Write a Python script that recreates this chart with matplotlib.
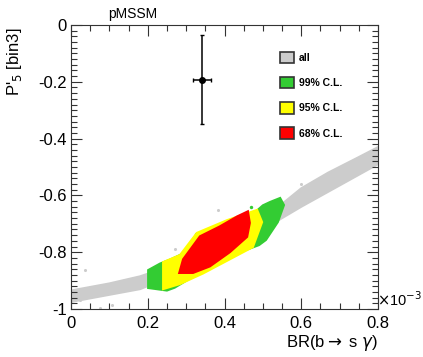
import numpy as np
import matplotlib
matplotlib.use("Agg")
import matplotlib.pyplot as plt
from matplotlib.patches import Patch
from matplotlib.ticker import MultipleLocator

plt.rcParams['font.family'] = ['Liberation Sans', 'DejaVu Sans']

# Outlines of the point clouds (x in units of 1e-3)
all_x_upper = [0.0, 0.1, 0.18, 0.3, 0.4, 0.5, 0.55, 0.6, 0.67, 0.75, 0.8]
all_y_upper = [-0.935, -0.91, -0.885, -0.83, -0.77, -0.69, -0.63, -0.575, -0.52, -0.465, -0.43]
all_x_lower = [0.8, 0.7, 0.6, 0.55, 0.5, 0.4, 0.3, 0.18, 0.1, 0.0]
all_y_lower = [-0.49, -0.565, -0.64, -0.68, -0.72, -0.80, -0.865, -0.93, -0.95, -0.975]
all_out_x = [0.036, 0.383, 0.024, 0.076, 0.108, 0.05, 0.13, 0.27, 0.6]
all_out_y = [-0.863, -0.651, -0.968, -0.996, -0.986, -0.945, -0.93, -0.79, -0.56]

cl99_x = [0.201, 0.201, 0.232, 0.26, 0.30, 0.40, 0.479, 0.50, 0.519, 0.545, 0.555, 0.539, 0.508, 0.49, 0.44, 0.35, 0.27, 0.25]
cl99_y = [-0.926, -0.863, -0.840, -0.825, -0.80, -0.72, -0.66, -0.635, -0.623, -0.609, -0.634, -0.694, -0.757, -0.775, -0.80, -0.86, -0.925, -0.935]
cl99_dot_x = [0.301, 0.47, 0.325]
cl99_dot_y = [-0.785, -0.64, -0.735]

cl95_x = [0.240, 0.240, 0.284, 0.328, 0.407, 0.461, 0.485, 0.498, 0.474, 0.414, 0.344, 0.284]
cl95_y = [-0.930, -0.835, -0.810, -0.732, -0.687, -0.662, -0.651, -0.694, -0.782, -0.825, -0.875, -0.912]

cl68_x = [0.282, 0.292, 0.336, 0.388, 0.433, 0.461, 0.466, 0.459, 0.414, 0.362, 0.318]
cl68_y = [-0.873, -0.825, -0.744, -0.709, -0.674, -0.656, -0.697, -0.746, -0.800, -0.850, -0.873]

# measurement
meas_x, meas_xerr = 0.341, 0.023
meas_y, meas_yerr = -0.192, 0.157

x_ticks = [0, 0.2, 0.4, 0.6, 0.8]
x_ticklabels = ['0', '0.2', '0.4', '0.6', '0.8']
y_ticks = [-1, -0.8, -0.6, -0.4, -0.2, 0]
y_ticklabels = ['-1', '-0.8', '-0.6', '-0.4', '-0.2', '0']

labels = ['all', '99% C.L.', '95% C.L.', '68% C.L.']
colors = ['#cccccc', '#33cc33', '#ffff00', '#ff0000']

fig = plt.figure(figsize=(4.23, 3.57), dpi=100)
ax = fig.add_axes([71/423, 1-309/357, 307/423, 284/357])

ax.fill(all_x_upper + all_x_lower, all_y_upper + all_y_lower, color=colors[0], lw=1.5, ec=colors[0])
ax.scatter(all_out_x, all_out_y, s=5, color=colors[0], lw=0)
ax.fill(cl99_x, cl99_y, color=colors[1], lw=1.5, ec=colors[1])
ax.scatter(cl99_dot_x, cl99_dot_y, s=6, color=colors[1], lw=0)
ax.fill(cl95_x, cl95_y, color=colors[2], lw=1.5, ec=colors[2])
ax.fill(cl68_x, cl68_y, color=colors[3], lw=1.5, ec=colors[3])

ax.errorbar(meas_x, meas_y, xerr=meas_xerr, yerr=meas_yerr, fmt='o', color='black',
            ms=4, elinewidth=1.1, capsize=1.5)

ax.set_xticks(x_ticks)
ax.set_xticklabels(x_ticklabels)
ax.set_yticks(y_ticks)
ax.set_yticklabels(y_ticklabels)
ax.xaxis.set_minor_locator(MultipleLocator(0.05))
ax.yaxis.set_minor_locator(MultipleLocator(0.02))
ax.set_xlim(0, 0.8)
ax.set_ylim(-1, 0)
ax.tick_params(which='both', direction='in', top=True, right=True, labelsize=12, color='#333333')
ax.tick_params(which='major', length=8, width=0.8)
ax.tick_params(which='minor', length=4, width=0.8)
ax.tick_params(axis='x', pad=5)
ax.tick_params(axis='y', pad=3)
for s in ax.spines.values():
    s.set_color('#333333')

handles = [Patch(facecolor=c, edgecolor='#333333', lw=1.2) for c in colors]
ax.legend(handles, labels, loc='upper left', bbox_to_anchor=(0.665, 0.925), frameon=False,
          prop={'size': 7.5, 'weight': 'bold'}, handlelength=1.35, handleheight=1.35,
          labelspacing=1.3, handletextpad=0.4, borderpad=0)

fig.text(133/423, 1-14/357, 'pMSSM', ha='center', va='center', fontsize=10)
fig.text(15/423, 1-28/357, "P'$_{5}$ [bin3]", rotation=90, ha='center', va='top', fontsize=12)
fig.text(378/423, 1-343/357, r'BR(b$\rightarrow$ s $\gamma$)', ha='right', va='center', fontsize=12)
fig.text(377/423, 1-300/357, r'$\times$10$^{-3}$', ha='left', va='center', fontsize=10.5)

fig.savefig('out.png', dpi=100)
